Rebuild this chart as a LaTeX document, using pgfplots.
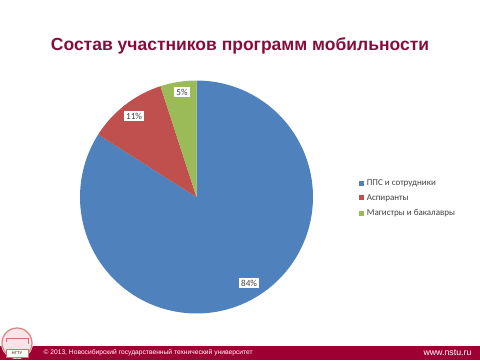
\documentclass[border=0pt]{standalone}
\usepackage{pgfplots}
\usepackage{pgfplotstable}
\pgfplotsset{compat=1.18}
\usepackage{fontspec}
\setmainfont{Liberation Sans}
\newfontfamily\calfont{Carlito}
\definecolor{pblue}{RGB}{79,129,189}
\definecolor{pred}{RGB}{192,80,77}
\definecolor{pgreen}{RGB}{155,187,89}
\definecolor{titlecol}{RGB}{135,12,62}
\definecolor{barcol}{RGB}{158,0,52}
\definecolor{txtgray}{RGB}{64,64,64}
\pgfplotstableread{
label value
PPS 84
Asp 11
Mag 5
}\piedata
\begin{document}
\begin{tikzpicture}[x=1pt,y=1pt]
\path (0,0) rectangle (480,360);
% title
\node[font=\fontsize{17.5}{19}\selectfont\bfseries, text=titlecol] at (240,314) {Состав участников программ мобильности};
% footer bar
\fill[barcol] (0,0) rectangle (480,14);
\node[font=\fontsize{6.7}{7}\selectfont, text=white, anchor=west] at (40,7) {© 2013, Новосибирский государственный технический университет};
\node[font=\fontsize{8.8}{9}\selectfont, text=white, anchor=east] at (475,7.5) {www.nstu.ru};
% logo
\fill[white] (17,17) circle (16);
\draw[pred!70, line width=1.2pt, fill={rgb,255:red,250;green,228;blue,232}] (17,17) circle (15);
\draw[pred!80, line width=0.8pt] (6,22) -- (28,22) -- (28,16) (6,22) -- (6,18);
\fill[white] (6,3) rectangle (28,11);
\draw[pred!80, line width=0.4pt] (6,3) rectangle (28,11);
\node[font=\fontsize{4}{4}\selectfont\bfseries, text=pred!80!black] at (17,7) {НГТУ};
\pgfplotstablegetelem{0}{value}\of\piedata \let\va\pgfplotsretval
\pgfplotstablegetelem{1}{value}\of\piedata \let\vb\pgfplotsretval
\pgfplotstablegetelem{2}{value}\of\piedata \let\vc\pgfplotsretval
\pgfmathsetmacro\aA{90}
\pgfmathsetmacro\aB{90-3.6*\va}
\pgfmathsetmacro\aC{\aB-3.6*\vb}
\pgfmathsetmacro\aD{\aC-3.6*\vc}
\begin{axis}[
  at={(196.5pt,163pt)}, anchor=origin,
  width=233pt, height=233pt, scale only axis,
  xmin=-1, xmax=1, ymin=-1, ymax=1,
  hide axis, clip=false,
  legend style={at={(1.195,0.585)}, anchor=north west, draw=none, fill=none,
    font=\calfont\fontsize{9}{10.5}\selectfont, text=txtgray,
    row sep=3.6pt, inner sep=0pt, legend cell align=left,
    /tikz/every odd column/.append style={column sep=1.2pt}},
  legend image code/.code={\fill[#1] (0pt,-2.5pt) rectangle (5pt,2.5pt);},
]
\addplot[fill=pblue, draw=none, domain=\aA:\aB, samples=120, variable=\t] ({cos(\t)},{sin(\t)}) -- (axis cs:0,0) -- cycle;
\addlegendentry{ППС и сотрудники}
\addplot[fill=pred, draw=none, domain=\aB:\aC, samples=30, variable=\t] ({cos(\t)},{sin(\t)}) -- (axis cs:0,0) -- cycle;
\addlegendentry{Аспиранты}
\addplot[fill=pgreen, draw=none, domain=\aC:\aD, samples=20, variable=\t] ({cos(\t)},{sin(\t)}) -- (axis cs:0,0) -- cycle;
\addlegendentry{Магистры и бакалавры}
\node[fill=white, inner xsep=2pt, inner ysep=1.8pt, font=\calfont\fontsize{9.2}{10}\selectfont, text=txtgray] at (axis cs:-0.124,0.901) {5\%};
\node[fill=white, inner xsep=2pt, inner ysep=1.8pt, font=\calfont\fontsize{9.2}{10}\selectfont, text=txtgray] at (axis cs:-0.536,0.695) {11\%};
\node[fill=white, inner xsep=2pt, inner ysep=1.8pt, font=\calfont\fontsize{9.2}{10}\selectfont, text=txtgray] at (axis cs:0.451,-0.738) {84\%};
\end{axis}
\end{tikzpicture}
\end{document}
